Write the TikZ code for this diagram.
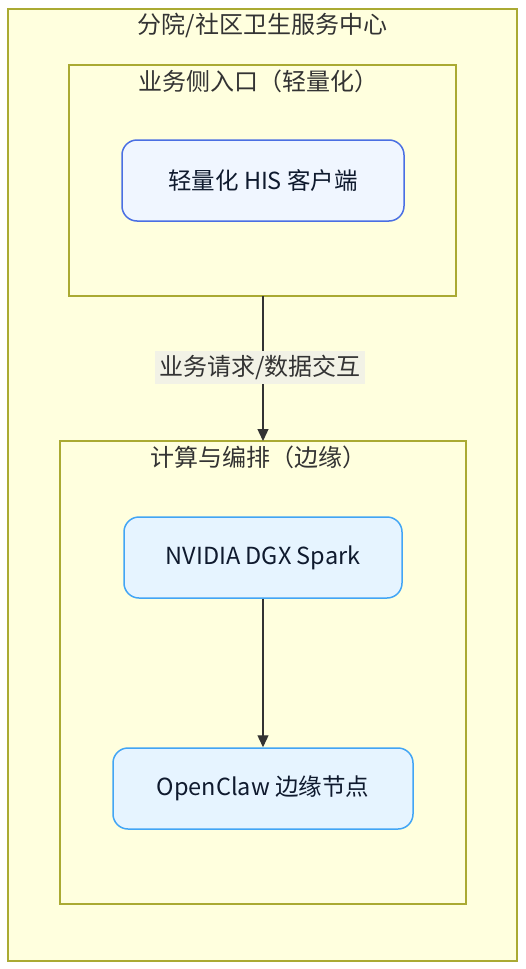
\documentclass[tikz,border=0pt]{standalone}
\usepackage{fontspec}
\setmainfont{Noto Sans CJK SC}
\usetikzlibrary{arrows.meta}
\definecolor{clfill}{HTML}{FFFFDE}
\definecolor{clline}{HTML}{AAAA33}
\definecolor{txt}{HTML}{333333}
\definecolor{hisfill}{HTML}{F0F6FF}
\definecolor{hisline}{HTML}{4A6FE3}
\definecolor{nfill}{HTML}{E6F4FF}
\definecolor{nline}{HTML}{42A5F5}
\definecolor{ntxt}{HTML}{0F1A2E}
\definecolor{lblbg}{HTML}{F2F2E6}
\tikzset{
  cluster/.style={draw=clline, fill=clfill, line width=1.1pt},
  ctitle/.style={text=txt, font=\fontsize{24}{28}\selectfont, anchor=center, inner sep=0pt},
  hisbox/.style={draw=hisline, fill=hisfill, line width=1.5pt, rounded corners=15pt},
  nbox/.style={draw=nline, fill=nfill, line width=1.5pt, rounded corners=15pt},
  ntext/.style={text=ntxt, font=\fontsize{23.5}{28}\selectfont, inner sep=0pt},
  conn/.style={draw=txt, line width=1.3pt, -{Triangle[length=12pt,width=11pt]}},
  elabel/.style={fill=lblbg, text=txt, font=\fontsize{24}{28}\selectfont, inner sep=2pt, minimum height=33pt, minimum width=210pt}
}
\begin{document}
\begin{tikzpicture}[x=1pt,y=-1pt]
\useasboundingbox (0,0) rectangle (526,969);
% outer
\draw[cluster] (8,9) rectangle (517,961);
\node[ctitle] (t0) at (262.5,25) {分院/社区卫生服务中心};
% cluster 1
\draw[cluster] (69,65) rectangle (456,296);
\node[ctitle] (t1) at (258,81) {业务侧入口（轻量化）};
\coordinate (c1b) at (263,296);
\node[hisbox, minimum width=282pt, minimum height=81pt] (his) at (263,180.5) {};
\node[ntext] at (his.center) {轻量化 HIS 客户端};
% cluster 2
\draw[cluster] (60,441) rectangle (466,904);
\node[ctitle] (t2) at (258,457) {计算与编排（边缘）};
\coordinate (c2t) at (263,441);
\node[nbox, minimum width=278pt, minimum height=81pt] (dgx) at (263,557.5) {};
\node[ntext] at (dgx.center) {NVIDIA DGX Spark};
\node[nbox, minimum width=300pt, minimum height=81pt] (oc) at (263,788.5) {};
\node[ntext] at (oc.center) {OpenClaw 边缘节点};
% edges
\draw[conn] (c1b) -- (c2t);
\node[elabel] (lab) at (260,367.5) {业务请求/数据交互};
\draw[conn] (dgx.south) -- (oc.north);
\end{tikzpicture}
\end{document}
